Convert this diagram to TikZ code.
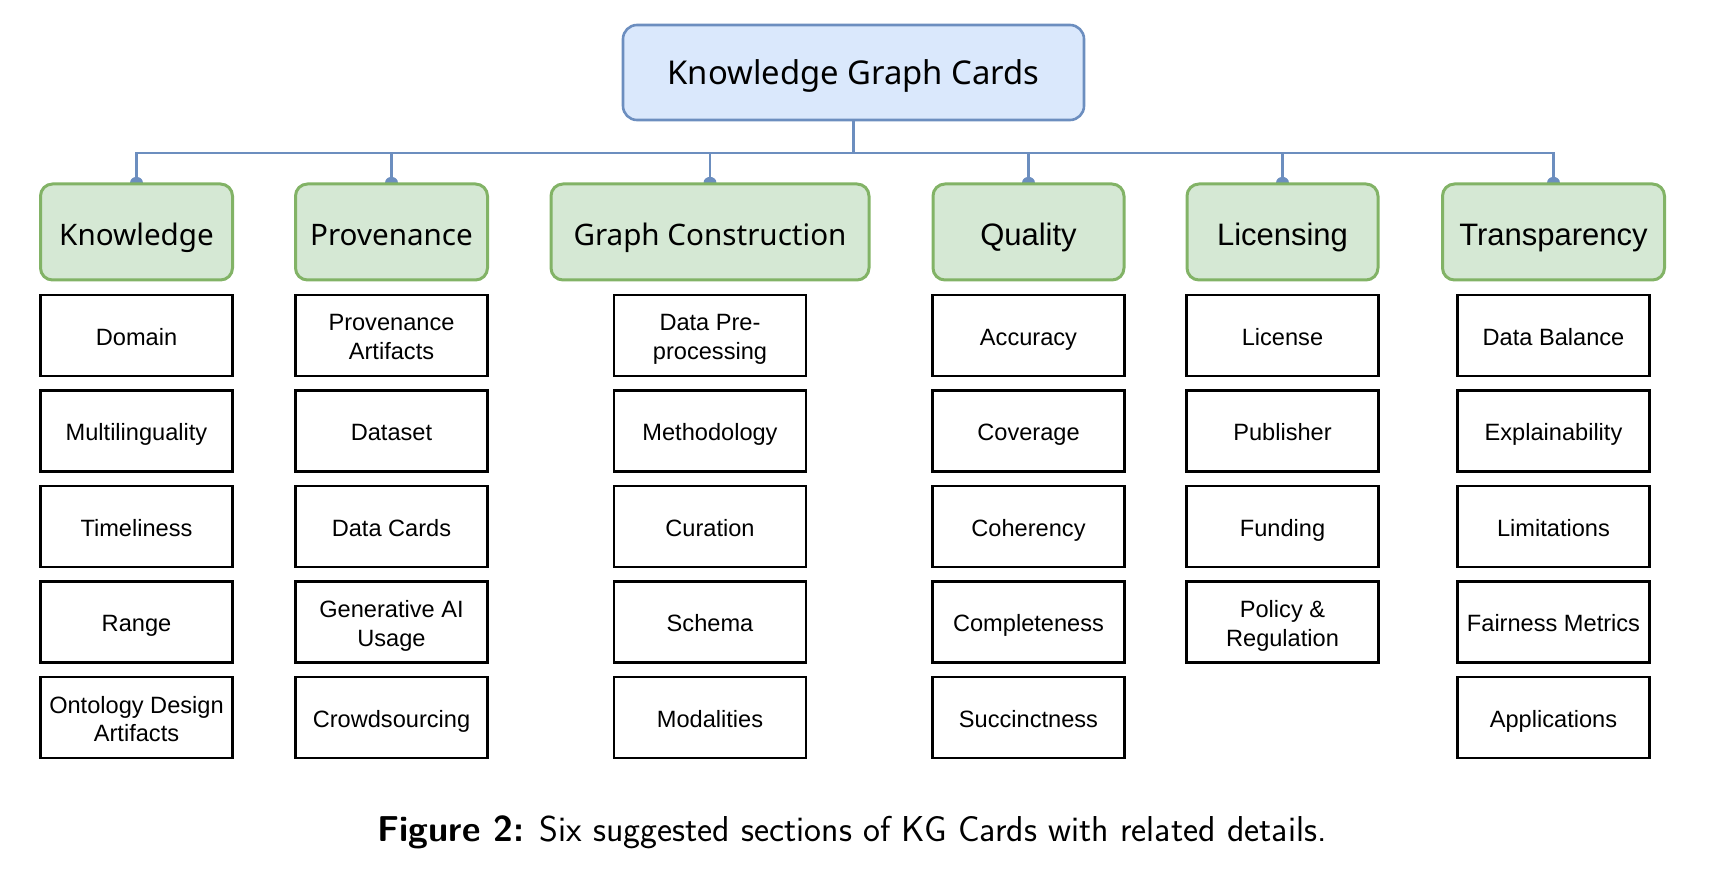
\documentclass[tikz,border=0pt]{standalone}
\usepackage{fontspec}
\setmainfont{Liberation Sans}
\newfontfamily\roboto{Noto Sans}
\usetikzlibrary{backgrounds}
\definecolor{bstroke}{HTML}{6C8EBF}
\definecolor{bfill}{HTML}{DAE8FC}
\definecolor{gstroke}{HTML}{82B366}
\definecolor{gfill}{HTML}{D5E8D4}
\tikzset{
  rootbox/.style={draw=bstroke, fill=bfill, line width=1.3pt, rounded corners=7pt,
    minimum width=230.5pt, minimum height=47.5pt, inner sep=0pt,
    text height=15.7pt, text depth=4pt,
    font=\roboto\fontsize{16.4}{20}\selectfont},
  secbox/.style={draw=gstroke, fill=gfill, line width=1.5pt, rounded corners=6pt,
    minimum height=48pt, inner sep=0pt},
  robotext/.style={font=\roboto\fontsize{14.8}{18}\selectfont, text height=17.77pt, text depth=4pt},
  arialtext/.style={font=\fontsize{15.5}{18}\selectfont, text height=17.9pt, text depth=4pt},
  itembox/.style={draw=black, line width=1.35pt, minimum width=96pt, minimum height=40.5pt,
    inner sep=0pt, align=center, font=\fontsize{11.8}{14.4}\selectfont,
    text height=12.85pt, text depth=3pt},
  twoline/.style={text height=27.3pt},
  conn/.style={draw=bstroke, line width=1.25pt},
  dome/.style={fill=bstroke}
}
\begin{document}
\begin{tikzpicture}[x=0.5pt,y=-0.5pt]
\useasboundingbox (0,0) rectangle (1720,882);
% root
\node[rootbox] (root) at (853.5,72.5) {Knowledge Graph Cards};
% sections
\node[secbox, robotext, minimum width=96pt] (k) at (136.5,232) {Knowledge};
\node[secbox, robotext, minimum width=96pt] (p) at (391.5,232) {Provenance};
\node[secbox, robotext, minimum width=159pt] (g) at (710,232) {Graph Construction};
\node[secbox, arialtext, minimum width=95.5pt] (q) at (1028.5,232) {Quality};
\node[secbox, arialtext, minimum width=95.5pt] (l) at (1282.5,232) {Licensing};
\node[secbox, arialtext, minimum width=111pt] (t) at (1553.5,232) {Transparency};
\coordinate (bus) at (853.5,153);
\begin{scope}[on background layer]
  \foreach \s in {k,p,g,q,l,t}{
    \draw[conn] (root.south) -- (bus) -| (\s.north);
    \fill[dome] (\s.north) ellipse[x radius=3.2pt, y radius=2.8pt];
  }
\end{scope}
% Knowledge items
\node[itembox] (k1) at (136.5,335.5) {Domain};
\node[itembox] (k2) at (136.5,431) {Multilinguality};
\node[itembox] (k3) at (136.5,526.5) {Timeliness};
\node[itembox] (k4) at (136.5,622) {Range};
\node[itembox, twoline] (k5) at (136.5,717.5) {Ontology Design\\Artifacts};
% Provenance items
\node[itembox, twoline] (p1) at (391.5,335.5) {Provenance\\Artifacts};
\node[itembox] (p2) at (391.5,431) {Dataset};
\node[itembox] (p3) at (391.5,526.5) {Data Cards};
\node[itembox, twoline] (p4) at (391.5,622) {Generative AI\\Usage};
\node[itembox] (p5) at (391.5,717.5) {Crowdsourcing};
% Graph Construction items
\node[itembox, twoline] (g1) at (710,335.5) {Data Pre-\\processing};
\node[itembox] (g2) at (710,431) {Methodology};
\node[itembox] (g3) at (710,526.5) {Curation};
\node[itembox] (g4) at (710,622) {Schema};
\node[itembox] (g5) at (710,717.5) {Modalities};
% Quality items
\node[itembox] (q1) at (1028.5,335.5) {Accuracy};
\node[itembox] (q2) at (1028.5,431) {Coverage};
\node[itembox] (q3) at (1028.5,526.5) {Coherency};
\node[itembox] (q4) at (1028.5,622) {Completeness};
\node[itembox] (q5) at (1028.5,717.5) {Succinctness};
% Licensing items
\node[itembox] (l1) at (1282.5,335.5) {License};
\node[itembox] (l2) at (1282.5,431) {Publisher};
\node[itembox] (l3) at (1282.5,526.5) {Funding};
\node[itembox, twoline] (l4) at (1282.5,622) {Policy \&\\Regulation};
% Transparency items
\node[itembox] (t1) at (1553.5,335.5) {Data Balance};
\node[itembox] (t2) at (1553.5,431) {Explainability};
\node[itembox] (t3) at (1553.5,526.5) {Limitations};
\node[itembox] (t4) at (1553.5,622) {Fairness Metrics};
\node[itembox] (t5) at (1553.5,717.5) {Applications};
% caption
\node[font=\sffamily\fontsize{18}{21}\selectfont, inner sep=0pt] (cap) at (852,832)
  {\textbf{Figure 2:} Six suggested sections of KG Cards with related details.};
\end{tikzpicture}
\end{document}
